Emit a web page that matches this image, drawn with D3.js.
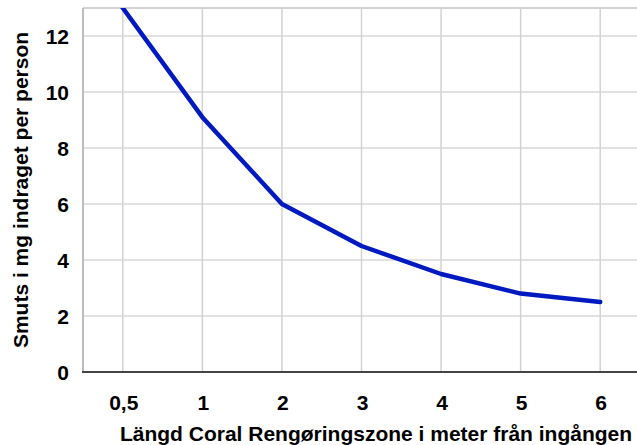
<!DOCTYPE html>
<html>
<head>
<meta charset="utf-8">
<script src="https://cdn.jsdelivr.net/npm/d3@7"></script>
<style>
  body { margin: 0; background: #fff; }
  svg { display: block; font-family: "Liberation Sans", Arial, sans-serif; }
</style>
</head>
<body>
<svg id="chart" width="637" height="445"></svg>
<script>
// chart data
const categories = ["0,5", "1", "2", "3", "4", "5", "6"];
const dirtValues = [13, 9.1, 6, 4.5, 3.5, 2.8, 2.5];
const yTicks = [0, 2, 4, 6, 8, 10, 12];
const xTitle = "Längd Coral Rengøringszone i meter från ingången";
const yTitle = "Smuts i mg indraget per person";

const svg = d3.select("#chart");
const plotLeft = 83, plotRight = 640, plotTop = 8, plotBottom = 372;

const x = d3.scalePoint()
  .domain(categories)
  .range([plotLeft, plotRight])
  .padding(0.5);

const y = d3.scaleLinear()
  .domain([0, 13])
  .range([plotBottom, plotTop]);

// horizontal grid
svg.append("g")
  .selectAll("line")
  .data(yTicks.slice(1))
  .join("line")
  .attr("x1", plotLeft).attr("x2", plotRight)
  .attr("y1", d => y(d)).attr("y2", d => y(d))
  .style("stroke", "#c4c4c4")
  .style("stroke-width", 1);

// top frame
svg.append("line")
  .attr("x1", plotLeft).attr("x2", plotRight)
  .attr("y1", plotTop).attr("y2", plotTop)
  .style("stroke", "#c4c4c4")
  .style("stroke-width", 1.5);

// vertical grid
svg.append("g")
  .selectAll("line")
  .data(categories)
  .join("line")
  .attr("x1", d => x(d)).attr("x2", d => x(d))
  .attr("y1", plotTop).attr("y2", plotBottom)
  .style("stroke", "#d2d2d2")
  .style("stroke-width", 1.5);

// left axis line
svg.append("line")
  .attr("x1", plotLeft).attr("x2", plotLeft)
  .attr("y1", plotTop).attr("y2", plotBottom)
  .style("stroke", "#bdbdbd")
  .style("stroke-width", 2);

// bottom axis line
svg.append("line")
  .attr("x1", plotLeft - 1).attr("x2", plotRight)
  .attr("y1", plotBottom).attr("y2", plotBottom)
  .style("stroke", "#444")
  .style("stroke-width", 2);

// y tick labels
svg.append("g")
  .selectAll("text")
  .data(yTicks)
  .join("text")
  .attr("x", 69)
  .attr("y", d => y(d))
  .attr("dy", "0.36em")
  .attr("text-anchor", "end")
  .style("font-size", "21px")
  .style("font-weight", "bold")
  .text(d => d);

// x tick labels
svg.append("g")
  .selectAll("text")
  .data(categories)
  .join("text")
  .attr("x", d => x(d) + 1)
  .attr("y", 410)
  .attr("text-anchor", "middle")
  .style("font-size", "21px")
  .style("font-weight", "bold")
  .text(d => d);

// clip so the line stops at the plot frame
svg.append("clipPath").attr("id", "clip")
  .append("rect")
  .attr("x", plotLeft).attr("y", plotTop)
  .attr("width", plotRight - plotLeft).attr("height", plotBottom - plotTop);

const line = d3.line()
  .x((d, i) => x(categories[i]))
  .y(d => y(d));

svg.append("path")
  .datum(dirtValues)
  .attr("clip-path", "url(#clip)")
  .attr("d", line)
  .style("fill", "none")
  .style("stroke", "#0019c0")
  .style("stroke-width", 4.5)
  .style("stroke-linejoin", "round")
  .style("stroke-linecap", "round");

// axis titles
svg.append("text")
  .attr("x", 376)
  .attr("y", 441)
  .attr("text-anchor", "middle")
  .style("font-size", "21px")
  .style("font-weight", "bold")
  .text(xTitle);

svg.append("text")
  .attr("transform", "translate(28,190) rotate(-90)")
  .attr("text-anchor", "middle")
  .style("font-size", "21px")
  .style("font-weight", "bold")
  .text(yTitle);
</script>
</body>
</html>
